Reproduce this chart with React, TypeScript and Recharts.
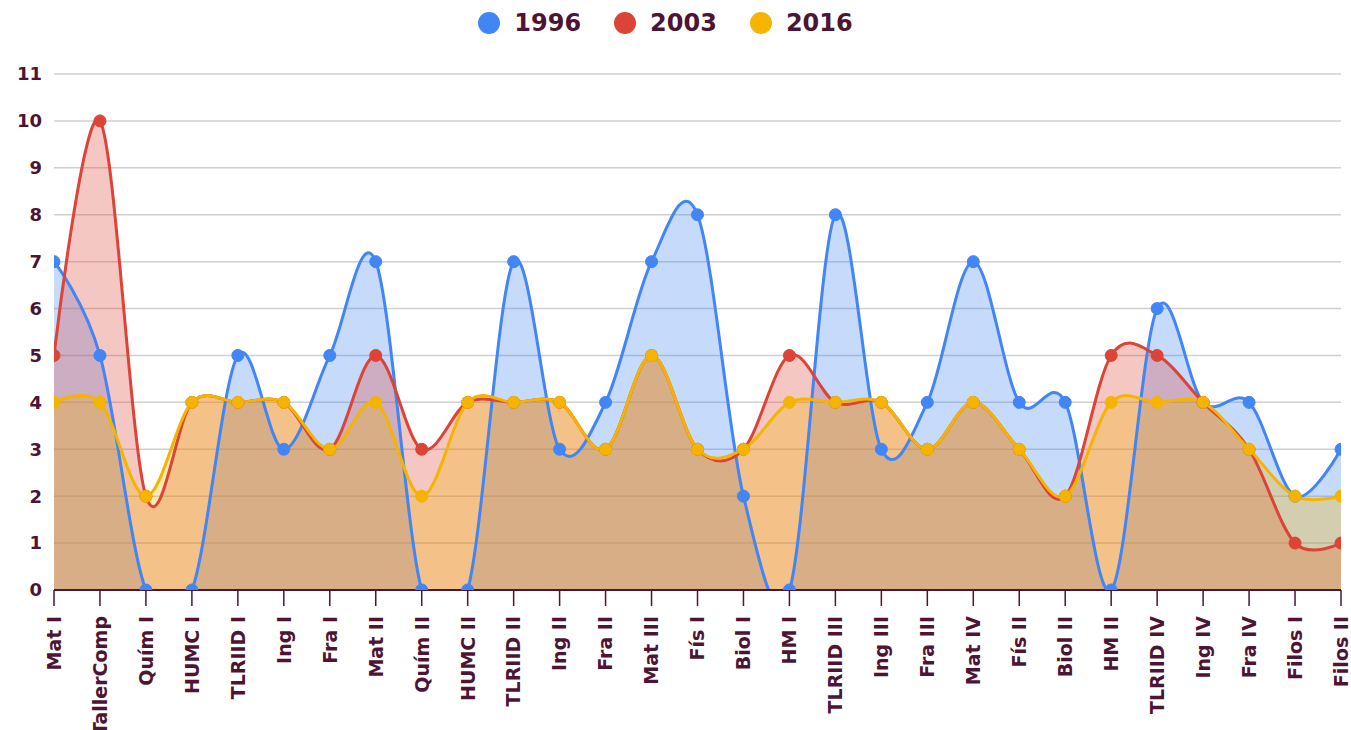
import React from 'react';
import { AreaChart, Area, Line, XAxis, YAxis, CartesianGrid, Legend } from 'recharts';

const categories = [
  'Mat I', 'TallerComp', 'Quím I', 'HUMC I', 'TLRIID I', 'Ing I', 'Fra I', 'Mat II', 'Quím II', 'HUMC II',
  'TLRIID II', 'Ing II', 'Fra II', 'Mat III', 'Fís I', 'Biol I', 'HM I', 'TLRIID III', 'Ing III', 'Fra III',
  'Mat IV', 'Fís II', 'Biol II', 'HM II', 'TLRIID IV', 'Ing IV', 'Fra IV', 'Filos I', 'Filos II',
];
const s1996 = [7, 5, 0, 0, 5, 3, 5, 7, 0, 0, 7, 3, 4, 7, 8, 2, 0, 8, 3, 4, 7, 4, 4, 0, 6, 4, 4, 2, 3];
const s2003 = [5, 10, 2, 4, 4, 4, 3, 5, 3, 4, 4, 4, 3, 5, 3, 3, 5, 4, 4, 3, 4, 3, 2, 5, 5, 4, 3, 1, 1];
const s2016 = [4, 4, 2, 4, 4, 4, 3, 4, 2, 4, 4, 4, 3, 5, 3, 3, 4, 4, 4, 3, 4, 3, 2, 4, 4, 4, 3, 2, 2];
const seriesNames = ['1996', '2003', '2016'];
const seriesColors = ['#4285F4', '#DB4437', '#F4B400'];
const yTicks = [0, 1, 2, 3, 4, 5, 6, 7, 8, 9, 10, 11];

const TEXT = '#4d1434';
const FONT = '"DejaVu Sans", Verdana, sans-serif';

const data = categories.map((name, i) => ({
  name,
  '1996': s1996[i],
  '2003': s2003[i],
  '2016': s2016[i],
}));

// Cardinal (Catmull-Rom, tension 0) curve factory, d3-compatible
const K = 1 / 6;
function cardinalCurve(context: any) {
  let x0 = NaN, x1 = NaN, x2 = NaN, y0 = NaN, y1 = NaN, y2 = NaN;
  let pt = 0;
  let line = NaN;
  const seg = (x: number, y: number) => {
    context.bezierCurveTo(
      x1 + K * (x2 - x0),
      y1 + K * (y2 - y0),
      x2 + K * (x1 - x),
      y2 + K * (y1 - y),
      x2,
      y2,
    );
  };
  return {
    areaStart() { line = 0; },
    areaEnd() { line = NaN; },
    lineStart() { x0 = x1 = x2 = y0 = y1 = y2 = NaN; pt = 0; },
    lineEnd() {
      if (pt === 2) context.lineTo(x2, y2);
      else if (pt === 3) seg(x1, y1);
      if (line || (line !== 0 && pt === 1)) context.closePath();
      line = 1 - line;
    },
    point(xi: number, yi: number) {
      const x = +xi;
      const y = +yi;
      if (pt === 0) {
        pt = 1;
        if (line) context.lineTo(x, y); else context.moveTo(x, y);
      } else if (pt === 1) {
        pt = 2;
        x1 = x; y1 = y;
      } else {
        if (pt === 2) pt = 3;
        seg(x, y);
      }
      x0 = x1; x1 = x2; x2 = x;
      y0 = y1; y1 = y2; y2 = y;
    },
  };
}

const XTick = (props: any) => {
  const { x, y, payload } = props;
  return (
    <text
      x={x}
      y={y}
      dy="0.36em"
      transform={`rotate(-90 ${x} ${y})`}
      textAnchor="end"
      fill={TEXT}
      fontSize={19}
      fontWeight="bold"
      fontFamily={FONT}
    >
      {payload.value}
    </text>
  );
};

const LegendContent = () => (
  <div
    style={{
      height: 74,
      display: 'flex',
      justifyContent: 'center',
      alignItems: 'flex-start',
      paddingRight: 10,
      boxSizing: 'border-box',
    }}
  >
    {seriesNames.map((n, i) => (
      <div
        key={n}
        style={{
          display: 'flex',
          alignItems: 'center',
          height: 46,
          marginLeft: i === 0 ? 0 : 33,
        }}
      >
        <div style={{ width: 22, height: 22, borderRadius: 11, background: seriesColors[i], marginRight: 14 }} />
        <span style={{ fontFamily: FONT, fontWeight: 'bold', fontSize: 24, color: TEXT, lineHeight: '46px' }}>{n}</span>
      </div>
    ))}
  </div>
);

export default function App() {
  return (
    <div style={{ position: 'absolute', left: 0, top: 0, width: 1351, height: 730, background: '#fff' }}>
      <AreaChart width={1351} height={730} data={data} margin={{ top: 0, right: 10, bottom: 0, left: 0 }}>
        <Legend verticalAlign="top" align="center" content={LegendContent} />
        <CartesianGrid vertical={false} stroke="#d0d0d0" strokeWidth={1.5} />
        <XAxis
          dataKey="name"
          interval={0}
          height={140}
          tickSize={16}
          tickMargin={10}
          allowDataOverflow
          axisLine={{ stroke: TEXT, strokeWidth: 2 }}
          tickLine={{ stroke: TEXT, strokeWidth: 1.5 }}
          tick={<XTick />}
        />
        <YAxis
          width={54}
          domain={[0, 11]}
          ticks={yTicks}
          allowDataOverflow
          axisLine={false}
          tickLine={false}
          tickSize={0}
          tickMargin={12}
          tick={{ fill: TEXT, fontSize: 18, fontWeight: 'bold', fontFamily: FONT }}
        />
        {seriesNames.map((n, i) => (
          <Area
            key={`a${n}`}
            dataKey={n}
            type={cardinalCurve as any}
            stroke="none"
            fill={seriesColors[i]}
            fillOpacity={0.3}
            dot={false}
            activeDot={false}
            isAnimationActive={false}
            legendType="none"
          />
        ))}
        {seriesNames.map((n, i) => (
          <Line
            key={`l${n}`}
            dataKey={n}
            type={cardinalCurve as any}
            stroke={seriesColors[i]}
            strokeWidth={3}
            dot={{ r: 6, fill: seriesColors[i], stroke: seriesColors[i], strokeWidth: 1 }}
            activeDot={false}
            isAnimationActive={false}
          />
        ))}
      </AreaChart>
    </div>
  );
}
